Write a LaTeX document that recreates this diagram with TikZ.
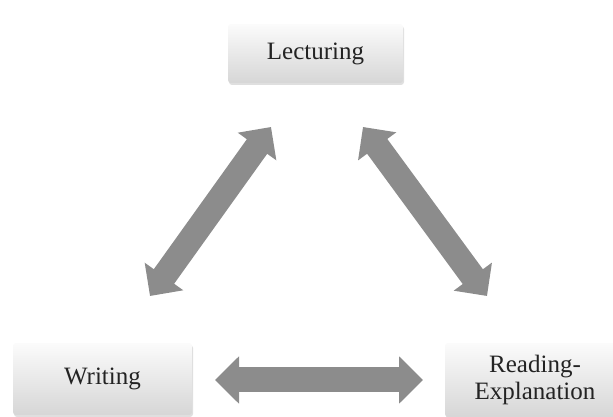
\documentclass[tikz,border=0pt]{standalone}
\usepackage{fontspec}
\setmainfont{Liberation Serif}
\usetikzlibrary{arrows.meta,shadows}
\definecolor{arrowgray}{RGB}{140,140,140}
\definecolor{txtgray}{RGB}{35,35,35}
\begin{document}
\begin{tikzpicture}[x=1pt,y=1pt,
  box/.style={rectangle, rounded corners=3pt, top color=gray!3, bottom color=gray!32,
    draw=none, font=\fontsize{25}{27}\selectfont, text=txtgray, align=center, inner sep=0pt,
    drop shadow={opacity=0.25,shadow xshift=1pt,shadow yshift=-2pt}},
  link/.style={arrowgray, line width=25pt,
    {Triangle[length=24pt,width=46pt]}-{Triangle[length=24pt,width=46pt]}}
]
\useasboundingbox (0,0) rectangle (613,417);
\clip (0,0) rectangle (613,417);
\node[box, minimum width=175pt, minimum height=59pt] (lect) at (315.5,363.5) {Lecturing};
\node[box, minimum width=179pt, minimum height=72pt] (writ) at (102.5,38) {Writing};
\node[box, minimum width=180pt, minimum height=74pt] (read) at (535,37) {Reading-\\Explanation};
\coordinate (lw) at (150,121);
\coordinate (lt) at (271,290);
\coordinate (rt) at (363,290);
\coordinate (rb) at (487,121);
\coordinate (bl) at (215,37);
\coordinate (br) at (423,37);
\draw[link] (lw) -- (lt);
\draw[link] (rt) -- (rb);
\draw[link] (bl) -- (br);
\end{tikzpicture}
\end{document}
